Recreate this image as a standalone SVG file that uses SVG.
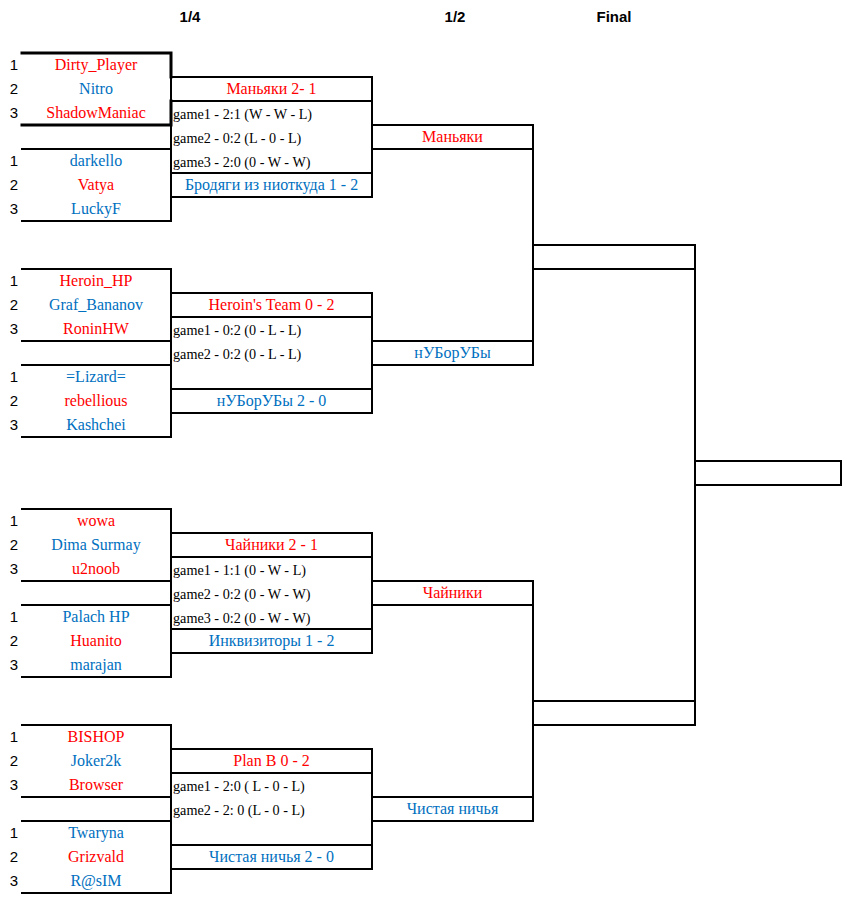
<svg xmlns="http://www.w3.org/2000/svg" width="860" height="900" viewBox="0 0 860 900">
<style>
.ln{fill:none;stroke:#000;stroke-width:2;stroke-linecap:square}
.thick{stroke-width:3}
.hd{font-family:"Liberation Sans",Arial,sans-serif;font-weight:bold;font-size:15px;fill:#000;text-anchor:middle}
.num{font-family:"Liberation Sans",Arial,sans-serif;font-size:15px;fill:#000;text-anchor:middle}
.nm{font-family:"Liberation Serif","Times New Roman",serif;font-size:16px;text-anchor:middle}
.gm{font-family:"Liberation Serif","Times New Roman",serif;font-size:14.2px;fill:#000}
.r{fill:#FF0000}
.b{fill:#0070C0}
</style>
<rect width="860" height="900" fill="#fff"/>
<g id="headers">
<text class="hd" x="190" y="22">1/4</text>
<text class="hd" x="455" y="22">1/2</text>
<text class="hd" x="614" y="22">Final</text>
</g>

<!-- Group 1, T=53 -->
<g id="team-dirty">
<path class="ln thick" d="M22,53 H171 V77 M22,125 H171 V101"/>
<text class="num" x="14" y="70">1</text><text class="nm r" x="96" y="70">Dirty_Player</text>
<text class="num" x="14" y="94">2</text><text class="nm b" x="96" y="94">Nitro</text>
<text class="num" x="14" y="118">3</text><text class="nm r" x="96" y="118">ShadowManiac</text>
</g>
<g id="team-darkello">
<path class="ln" d="M22,149 H171 V173 M22,221 H171 V197"/>
<text class="num" x="14" y="166">1</text><text class="nm b" x="96" y="166">darkello</text>
<text class="num" x="14" y="190">2</text><text class="nm r" x="96" y="190">Vatya</text>
<text class="num" x="14" y="214">3</text><text class="nm b" x="96" y="214">LuckyF</text>
</g>
<g id="match1">
<rect class="ln" x="171" y="77" width="201" height="24"/>
<path class="ln" d="M171,101 V173 M372,101 V173"/>
<rect class="ln" x="171" y="173" width="201" height="24"/>
<text class="nm r" x="271.5" y="94">Маньяки 2- 1</text>
<text class="gm" x="173" y="118.5">game1 - 2:1 (W - W - L)</text>
<text class="gm" x="173" y="142.5">game2 - 0:2 (L - 0 - L)</text>
<text class="gm" x="173" y="166.5">game3 - 2:0 (0 - W - W)</text>
<text class="nm b" x="271.5" y="190">Бродяги из ниоткуда 1 - 2</text>
</g>

<!-- Group 2, T=269 -->
<g id="team-heroin">
<path class="ln" d="M22,269 H171 V293 M22,341 H171 V317"/>
<text class="num" x="14" y="286">1</text><text class="nm r" x="96" y="286">Heroin_HP</text>
<text class="num" x="14" y="310">2</text><text class="nm b" x="96" y="310">Graf_Bananov</text>
<text class="num" x="14" y="334">3</text><text class="nm r" x="96" y="334">RoninHW</text>
</g>
<g id="team-lizard">
<path class="ln" d="M22,365 H171 V389 M22,437 H171 V413"/>
<text class="num" x="14" y="382">1</text><text class="nm b" x="96" y="382">=Lizard=</text>
<text class="num" x="14" y="406">2</text><text class="nm r" x="96" y="406">rebellious</text>
<text class="num" x="14" y="430">3</text><text class="nm b" x="96" y="430">Kashchei</text>
</g>
<g id="match2">
<rect class="ln" x="171" y="293" width="201" height="24"/>
<path class="ln" d="M171,317 V389 M372,317 V389"/>
<rect class="ln" x="171" y="389" width="201" height="24"/>
<text class="nm r" x="271.5" y="310">Heroin's Team 0 - 2</text>
<text class="gm" x="173" y="334.5">game1 - 0:2 (0 - L - L)</text>
<text class="gm" x="173" y="358.5">game2 - 0:2 (0 - L - L)</text>
<text class="nm b" x="271.5" y="406">нУБорУБы 2 - 0</text>
</g>

<!-- Group 3, T=509 -->
<g id="team-wowa">
<path class="ln" d="M22,509 H171 V533 M22,581 H171 V557"/>
<text class="num" x="14" y="526">1</text><text class="nm r" x="96" y="526">wowa</text>
<text class="num" x="14" y="550">2</text><text class="nm b" x="96" y="550">Dima Surmay</text>
<text class="num" x="14" y="574">3</text><text class="nm r" x="96" y="574">u2noob</text>
</g>
<g id="team-palach">
<path class="ln" d="M22,605 H171 V629 M22,677 H171 V653"/>
<text class="num" x="14" y="622">1</text><text class="nm b" x="96" y="622">Palach HP</text>
<text class="num" x="14" y="646">2</text><text class="nm r" x="96" y="646">Huanito</text>
<text class="num" x="14" y="670">3</text><text class="nm b" x="96" y="670">marajan</text>
</g>
<g id="match3">
<rect class="ln" x="171" y="533" width="201" height="24"/>
<path class="ln" d="M171,557 V629 M372,557 V629"/>
<rect class="ln" x="171" y="629" width="201" height="24"/>
<text class="nm r" x="271.5" y="550">Чайники 2 - 1</text>
<text class="gm" x="173" y="574.5">game1 - 1:1 (0 - W - L)</text>
<text class="gm" x="173" y="598.5">game2 - 0:2 (0 - W - W)</text>
<text class="gm" x="173" y="622.5">game3 - 0:2 (0 - W - W)</text>
<text class="nm b" x="271.5" y="646">Инквизиторы 1 - 2</text>
</g>

<!-- Group 4, T=725 -->
<g id="team-bishop">
<path class="ln" d="M22,725 H171 V749 M22,797 H171 V773"/>
<text class="num" x="14" y="742">1</text><text class="nm r" x="96" y="742">BISHOP</text>
<text class="num" x="14" y="766">2</text><text class="nm b" x="96" y="766">Joker2k</text>
<text class="num" x="14" y="790">3</text><text class="nm r" x="96" y="790">Browser</text>
</g>
<g id="team-twaryna">
<path class="ln" d="M22,821 H171 V845 M22,893 H171 V869"/>
<text class="num" x="14" y="838">1</text><text class="nm b" x="96" y="838">Twaryna</text>
<text class="num" x="14" y="862">2</text><text class="nm r" x="96" y="862">Grizvald</text>
<text class="num" x="14" y="886">3</text><text class="nm b" x="96" y="886">R@sIM</text>
</g>
<g id="match4">
<rect class="ln" x="171" y="749" width="201" height="24"/>
<path class="ln" d="M171,773 V845 M372,773 V845"/>
<rect class="ln" x="171" y="845" width="201" height="24"/>
<text class="nm r" x="271.5" y="766">Plan B 0 - 2</text>
<text class="gm" x="173" y="790.5">game1 - 2:0 ( L - 0 - L)</text>
<text class="gm" x="173" y="814.5">game2 - 2: 0 (L - 0 - L)</text>
<text class="nm b" x="271.5" y="862">Чистая ничья 2 - 0</text>
</g>

<!-- Semifinal boxes -->
<g id="semi-manyaki">
<rect class="ln" x="372" y="125" width="161" height="24"/>
<text class="nm r" x="452.5" y="142">Маньяки</text>
</g>
<g id="semi-nubor">
<rect class="ln" x="372" y="341" width="161" height="24"/>
<text class="nm b" x="452.5" y="358">нУБорУБы</text>
</g>
<g id="semi-chainiki">
<rect class="ln" x="372" y="581" width="161" height="24"/>
<text class="nm r" x="452.5" y="598">Чайники</text>
</g>
<g id="semi-chistaya">
<rect class="ln" x="372" y="797" width="161" height="24"/>
<text class="nm b" x="452.5" y="814">Чистая ничья</text>
</g>

<!-- Final boxes -->
<g id="final-top"><rect class="ln" x="533" y="245" width="162" height="24"/></g>
<g id="final-bottom"><rect class="ln" x="533" y="701" width="162" height="24"/></g>
<g id="winner"><rect class="ln" x="695" y="461" width="146" height="24"/></g>

<g id="connectors">
<path class="ln" d="M533,149 V341"/>
<path class="ln" d="M533,605 V797"/>
<path class="ln" d="M695,269 V461 M695,485 V701"/>
</g>
</svg>
